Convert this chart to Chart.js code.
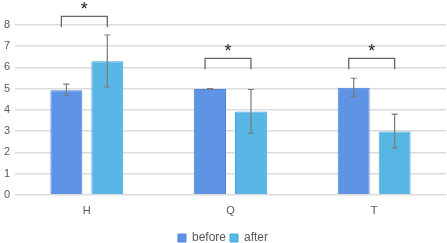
<!DOCTYPE html>
<html lang="en">
<head>
<meta charset="UTF-8">
<title>before / after</title>
<style>
    body { margin: 0; background: #fff; }
    #wrap { width: 447px; height: 243px; }
</style>
<script src="https://cdn.jsdelivr.net/npm/chart.js"></script>
</head>
<body>
<div id="wrap"><canvas id="barChart"></canvas></div>
<script>
const categories = ["H", "Q", "T"];
const beforeVals = [4.93, 4.99, 5.04];
const afterVals = [6.29, 3.92, 2.98];
// error bar ranges (low, high)
const beforeLow = [4.69, 4.97, 4.63];
const beforeHigh = [5.21, 5.0, 5.49];
const afterLow = [5.08, 2.9, 2.21];
const afterHigh = [7.53, 4.96, 3.8];
// significance brackets: leg bottom, bracket top
const bracketLow = [7.9, 5.91, 5.91];
const bracketTop = [8.41, 6.43, 6.43];
const yTicks = [0, 1, 2, 3, 4, 5, 6, 7, 8];

const lows = [beforeLow, afterLow];
const highs = [beforeHigh, afterHigh];

const extras = {
    id: "extras",
    afterDatasetsDraw(chart) {
        const ctx = chart.ctx;
        const y = chart.scales.y;
        ctx.save();
        // error bars
        ctx.strokeStyle = "#7a7a7a";
        ctx.lineWidth = 1.2;
        [0, 1].forEach(function (d) {
            chart.getDatasetMeta(d).data.forEach(function (bar, i) {
                const x = bar.x;
                const y1 = y.getPixelForValue(lows[d][i]);
                const y2 = y.getPixelForValue(highs[d][i]);
                ctx.beginPath();
                ctx.moveTo(x, y1); ctx.lineTo(x, y2);
                ctx.moveTo(x - 3, y1); ctx.lineTo(x + 3, y1);
                ctx.moveTo(x - 3, y2); ctx.lineTo(x + 3, y2);
                ctx.stroke();
            });
        });
        // brackets + stars
        ctx.strokeStyle = "#666";
        ctx.lineWidth = 1.3;
        ctx.fillStyle = "#222";
        ctx.font = "18px 'Liberation Sans', Arial, sans-serif";
        ctx.textAlign = "center";
        ctx.textBaseline = "middle";
        categories.forEach(function (c, i) {
            const xa = chart.getDatasetMeta(0).data[i].x - 5;
            const xb = chart.getDatasetMeta(1).data[i].x;
            const yl = y.getPixelForValue(bracketLow[i]);
            const yt = y.getPixelForValue(bracketTop[i]);
            ctx.beginPath();
            ctx.moveTo(xa, yl); ctx.lineTo(xa, yt); ctx.lineTo(xb, yt); ctx.lineTo(xb, yl);
            ctx.stroke();
            ctx.fillText("*", (xa + xb) / 2, yt - 6);
        });
        ctx.restore();
    }
};

new Chart(document.getElementById("barChart"), {
    type: "bar",
    data: {
        labels: categories,
        datasets: [
            {
                label: "before",
                data: beforeVals,
                backgroundColor: "#5f93e6",
                borderColor: "#4a84e0",
                borderWidth: 1
            },
            {
                label: "after",
                data: afterVals,
                backgroundColor: "#58b6e4",
                borderColor: "#45aadf",
                borderWidth: 1
            }
        ]
    },
    options: {
        responsive: true,
        maintainAspectRatio: false,
        animation: false,
        categoryPercentage: 0.57,
        barPercentage: 0.78,
        layout: { padding: { top: 25, right: 1, left: 0, bottom: -11 } },
        plugins: {
            legend: {
                position: "bottom",
                labels: {
                    boxWidth: 8,
                    boxHeight: 8,
                    padding: 4,
                    color: "#595959",
                    font: { family: "'Liberation Sans', Arial, sans-serif", size: 12 }
                }
            },
            tooltip: { enabled: false }
        },
        scales: {
            x: {
                grid: { display: false },
                border: { display: false },
                afterFit(scale) { scale.height += 8; },
                ticks: {
                    color: "#595959",
                    padding: 2,
                    font: { family: "'Liberation Sans', Arial, sans-serif", size: 11 }
                }
            },
            y: {
                min: 0,
                max: 8,
                afterBuildTicks(scale) { scale.ticks = yTicks.map(v => ({ value: v })); },
                afterFit(scale) { scale.width = 15; },
                grid: { color: "#dcdcdc", lineWidth: 1.5, drawTicks: false },
                border: { display: false },
                ticks: {
                    color: "#595959",
                    padding: 5,
                    font: { family: "'Liberation Sans', Arial, sans-serif", size: 11 }
                }
            }
        }
    },
    plugins: [extras]
});
</script>
</body>
</html>
